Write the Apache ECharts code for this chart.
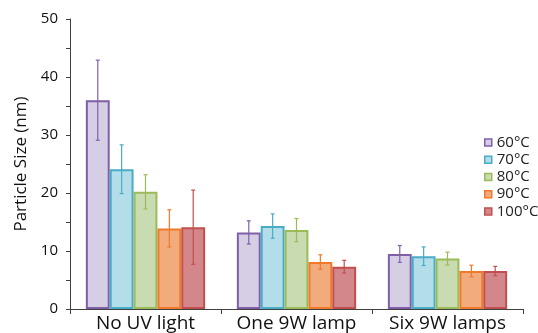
<!DOCTYPE html>
<html><head><meta charset="utf-8">
<script src="https://cdn.jsdelivr.net/npm/echarts@6/dist/echarts.min.js"></script>
<style>html,body{margin:0;padding:0;background:#fff}#c{width:538px;height:333px}</style>
</head><body><div id="c"></div>
<script>
const categories = ['No UV light', 'One 9W lamp', 'Six 9W lamps'];
const seriesNames = ['60°C', '70°C', '80°C', '90°C', '100°C'];
const values60 = [36.0, 13.2, 9.5];
const values70 = [24.1, 14.3, 9.1];
const values80 = [20.2, 13.6, 8.7];
const values90 = [13.9, 8.1, 6.55];
const values100 = [14.1, 7.3, 6.55];
const err60 = [6.9, 2.0, 1.45];
const err70 = [4.2, 2.1, 1.6];
const err80 = [2.95, 2.0, 1.1];
const err90 = [3.2, 1.25, 1.0];
const err100 = [6.4, 1.1, 0.8];
const yTicks = [0, 10, 20, 30, 40, 50];

const values = [values60, values70, values80, values90, values100];
const errs = [err60, err70, err80, err90, err100];
const borders = ['#7F60A8', '#4BACC6', '#9BBB59', '#F07A2A', '#C0504D'];
const fills = ['#D6CEE4', '#B2DDE9', '#C9DBB1', '#F1AB7C', '#D4878A'];
const FONT = 'Open Sans';
const catGap = 0.21;

const series = [];
values.forEach((v, i) => {
  series.push({
    name: seriesNames[i], type: 'bar', data: v,
    barGap: '0%', barCategoryGap: (catGap * 100) + '%',
    itemStyle: { color: fills[i], borderColor: borders[i], borderWidth: 2 },
    z: 2
  });
});
values.forEach((v, i) => {
  series.push({
    type: 'custom', name: seriesNames[i] + ' err',
    data: v.map((val, j) => [j, val - errs[i][j], val + errs[i][j]]),
    encode: { x: 0, y: [1, 2] },
    z: 5,
    renderItem: function (params, api) {
      const j = api.value(0);
      const lo = api.coord([j, api.value(1)]);
      const hi = api.coord([j, api.value(2)]);
      const band = api.size([1, 0])[0];
      const bw = band * (1 - catGap) / 5;
      const x = lo[0] - band * (1 - catGap) / 2 + bw * (i + 0.5);
      const cap = 2;
      const st = { stroke: borders[i], lineWidth: 1.2 };
      return { type: 'group', children: [
        { type: 'line', shape: { x1: x, y1: lo[1], x2: x, y2: hi[1] }, style: st },
        { type: 'line', shape: { x1: x - cap, y1: lo[1], x2: x + cap, y2: lo[1] }, style: st },
        { type: 'line', shape: { x1: x - cap, y1: hi[1], x2: x + cap, y2: hi[1] }, style: st }
      ]};
    }
  });
});

const chart = echarts.init(document.getElementById('c'), null, { renderer: 'canvas' });
chart.setOption({
  animation: false,
  textStyle: { fontFamily: FONT },
  grid: { left: 70, right: 15, top: 19, bottom: 24 },
  legend: {
    data: seriesNames, orient: 'vertical', left: 479, top: 129,
    itemWidth: 7, itemHeight: 7, itemGap: 0,
    icon: 'rect',
    textStyle: { fontFamily: FONT, fontSize: 15, color: '#222', lineHeight: 17.2 },
    itemStyle: { borderWidth: 1.5 }
  },
  xAxis: {
    type: 'category', data: categories,
    axisLine: { lineStyle: { color: '#404040', width: 1 } },
    axisTick: { show: true, length: 5, lineStyle: { color: '#404040' } },
    axisLabel: { fontFamily: FONT, fontSize: 19, color: '#111', margin: 5, interval: 0 }
  },
  yAxis: {
    type: 'value', min: yTicks[0], max: yTicks[yTicks.length - 1], interval: 10,
    name: 'Particle Size (nm)', nameLocation: 'middle', nameGap: 40,
    nameTextStyle: { fontFamily: FONT, fontSize: 17, color: '#111' },
    axisLine: { show: true, lineStyle: { color: '#404040', width: 1 } },
    axisTick: { show: true, length: 4, lineStyle: { color: '#404040' } },
    minorTick: { show: true, splitNumber: 2, length: 4, lineStyle: { color: '#404040' } },
    splitLine: { show: false },
    axisLabel: { fontFamily: FONT, fontSize: 15, color: '#111', margin: 12 }
  },
  series: series
});
</script></body></html>
